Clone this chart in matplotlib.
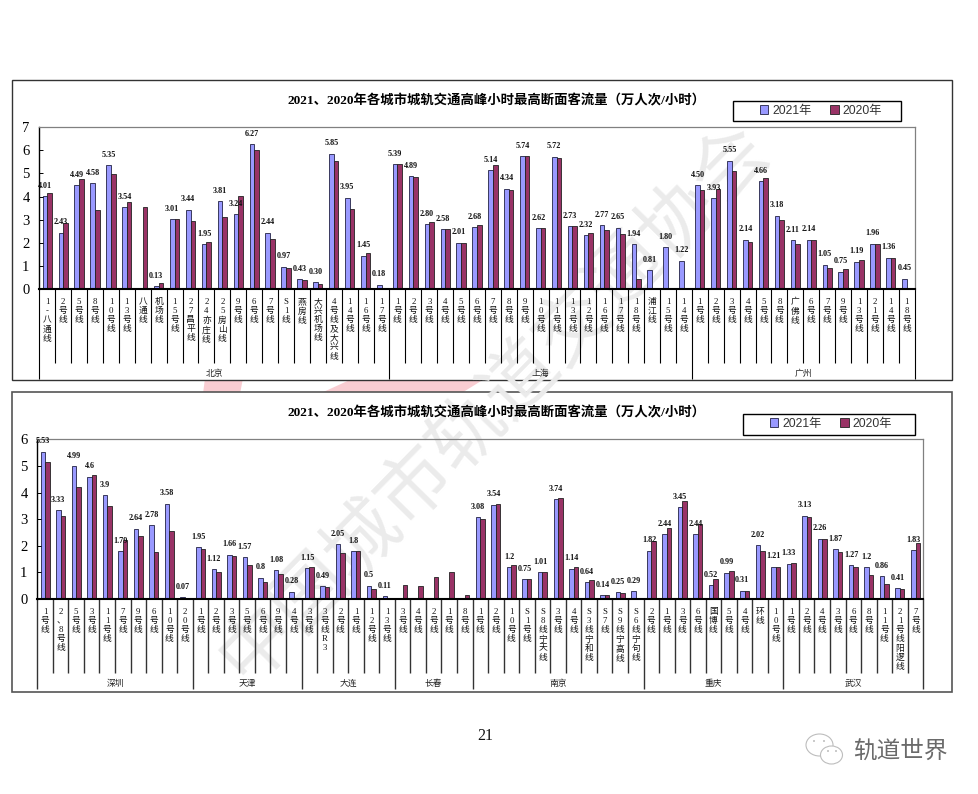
import matplotlib
matplotlib.use("Agg")
import matplotlib.pyplot as plt
from matplotlib.patches import Rectangle, Polygon, Ellipse

plt.rcParams['font.family'] = ['Liberation Serif', 'Noto Sans CJK SC']
plt.rcParams['axes.unicode_minus'] = False

W, H = 979, 794

TITLE = "2021、2020年各城市城轨交通高峰小时最高断面客流量（万人次/小时）"
SERIES = ["2021年", "2020年"]
COLORS = ["#9999FF", "#993366"]

# ---- Panel 1 -------------------------------------------------------------
cities_a = ["北京", "上海", "广州"]
lines_bj = ["1-八通线", "2号线", "5号线", "8号线", "10号线", "13号线", "八通线", "机场线",
            "15号线", "27昌平线", "24亦庄线", "25房山线", "9号线", "6号线", "7号线", "S1线",
            "燕房线", "大兴机场线", "4号线及大兴线", "14号线", "16号线", "17号线"]
y21_bj = [4.01, 2.43, 4.49, 4.58, 5.35, 3.54, None, 0.13, 3.01, 3.44, 1.95, 3.81, 3.24,
          6.27, 2.44, 0.97, 0.43, 0.30, 5.85, 3.95, 1.45, 0.18]
y20_bj = [4.14, 2.84, 4.75, 3.41, 4.96, 3.75, 3.55, 0.27, 3.01, 2.94, 2.03, 3.12, 4.03,
          6.00, 2.16, 0.89, 0.39, 0.23, 5.54, 3.45, 1.56, None]
lines_sh = ["1号线", "2号线", "3号线", "4号线", "5号线", "6号线", "7号线", "8号线", "9号线",
            "10号线", "11号线", "13号线", "12号线", "16号线", "17号线", "18号线", "浦江线",
            "15号线", "14号线"]
y21_sh = [5.39, 4.89, 2.80, 2.58, 2.01, 2.68, 5.14, 4.34, 5.74, 2.62, 5.72, 2.73, 2.32,
          2.77, 2.65, 1.94, 0.81, 1.80, 1.22]
y20_sh = [5.39, 4.83, 2.89, 2.58, 1.98, 2.76, 5.35, 4.27, 5.74, 2.62, 5.66, 2.73, 2.42,
          2.55, 2.37, 0.43, None, None, None]
lines_gz = ["1号线", "2号线", "3号线", "4号线", "5号线", "8号线", "广佛线", "6号线", "7号线",
            "9号线", "13号线", "21号线", "14号线", "18号线"]
y21_gz = [4.50, 3.93, 5.55, 2.14, 4.66, 3.18, 2.11, 2.14, 1.05, 0.75, 1.19, 1.96, 1.36, 0.45]
y20_gz = [4.27, 4.33, 5.09, 2.02, 4.79, 2.97, 1.95, 2.14, 0.91, 0.87, 1.25, 1.95, 1.36, None]

# ---- Panel 2 -------------------------------------------------------------
cities_b = ["深圳", "天津", "大连", "长春", "南京", "重庆", "武汉"]
lines_sz = ["1号线", "2、8号线", "5号线", "3号线", "11号线", "7号线", "9号线", "6号线", "10号线", "20号线"]
y21_sz = [5.53, 3.33, 4.99, 4.6, 3.9, 1.79, 2.64, 2.78, 3.58, 0.07]
y20_sz = [5.15, 3.11, 4.19, 4.64, 3.49, 2.2, 2.38, 1.78, 2.56, None]
lines_tj = ["1号线", "2号线", "3号线", "5号线", "6号线", "9号线", "4号线"]
y21_tj = [1.95, 1.12, 1.66, 1.57, 0.8, 1.08, 0.28]
y20_tj = [1.89, 1.03, 1.60, 1.26, 0.63, 0.93, None]
lines_dl = ["3号线", "3号线R3", "2号线", "1号线", "12号线", "13号线"]
y21_dl = [1.15, 0.49, 2.05, 1.8, 0.5, 0.11]
y20_dl = [1.19, 0.44, 1.74, 1.79, 0.37, None]
lines_cc = ["3号线", "4号线", "2号线", "1号线", "8号线"]
y21_cc = [None, None, None, None, None]
y20_cc = [0.51, 0.49, 0.81, 1.00, 0.15]
lines_nj = ["1号线", "2号线", "10号线", "S1号线", "S8线宁天线", "3号线", "4号线", "S3线宁和线",
            "S7线", "S9线宁高线", "S6线宁句线"]
y21_nj = [3.08, 3.54, 1.2, 0.75, 1.01, 3.74, 1.14, 0.64, 0.14, 0.25, 0.29]
y20_nj = [3.00, 3.56, 1.26, 0.75, 1.01, 3.81, 1.22, 0.70, 0.14, 0.22, None]
lines_cq = ["2号线", "1号线", "3号线", "6号线", "国博线", "5号线", "4号线", "环线", "10号线"]
y21_cq = [1.82, 2.44, 3.45, 2.44, 0.52, 0.99, 0.31, 2.02, 1.21]
y20_cq = [2.19, 2.67, 3.70, 2.80, 0.74, 1.07, 0.30, 1.82, 1.19]
lines_wh = ["1号线", "2号线", "4号线", "3号线", "6号线", "8号线", "11号线", "21号线阳逻线", "7号线"]
y21_wh = [1.33, 3.13, 2.26, 1.87, 1.27, 1.2, 0.86, 0.41, 1.83]
y20_wh = [1.37, 3.07, 2.24, 1.75, 1.19, 0.89, 0.55, 0.37, 2.12]

fig = plt.figure(figsize=(W / 100, H / 100), dpi=100, facecolor="white")


def fx(x):
    return x / W


def fy(y):
    return 1 - y / H


def fig_poly(pts, **kw):
    fig.add_artist(Polygon([(fx(a), fy(b)) for a, b in pts], closed=True,
                           transform=fig.transFigure, **kw))


def fig_rect(x0, y0, x1, y1, **kw):
    fig.add_artist(Rectangle((fx(x0), fy(y1)), fx(x1) - fx(x0), (y1 - y0) / H,
                             transform=fig.transFigure, **kw))


# pink logo remains showing between the two panels
fig_poly([(205, 378), (243, 378), (240, 394), (203, 394)], facecolor="#F9CDD2", edgecolor="none", zorder=0.1)
fig_poly([(354, 378), (486, 378), (460, 394), (319, 394)], facecolor="#F9CDD2", edgecolor="none", zorder=0.1)

# panel frames
fig_rect(12, 80, 952, 380, facecolor="white", edgecolor="#333333", linewidth=1.0, zorder=0.5)
fig_rect(12, 392, 952, 692, facecolor="white", edgecolor="#555555", linewidth=1.2, zorder=0.5)

# watermark
fig.text(fx(494), fy(402), "中国城市轨道交通协会", rotation=45.5, rotation_mode="anchor",
         ha="center", va="center", fontsize=54, color="#EBEBEB", fontweight="light",
         family=["Noto Sans CJK SC"], zorder=0.7)


def panel(box, ymax, groups, cities, sep_color, sep_lw, legend_box, legend_x_center, title_y, fmt):
    left, right, top, bottom = box
    ax = fig.add_axes([fx(left), fy(bottom), (right - left) / W, (bottom - top) / H], zorder=1)
    ax.patch.set_visible(False)
    labels, y21, y20, bounds = [], [], [], [0]
    for lab, a, b in groups:
        labels += lab
        y21 += a
        y20 += b
        bounds.append(len(labels))
    n = len(labels)
    xs = list(range(n))
    nan = float("nan")
    w = 0.29
    v21 = [nan if v is None else v for v in y21]
    v20 = [nan if v is None else v for v in y20]
    b1 = ax.bar([x + 0.5 - w / 2 for x in xs], v21, w, color=COLORS[0], edgecolor="#222244",
                linewidth=0.6, label=SERIES[0])
    b2 = ax.bar([x + 0.5 + w / 2 for x in xs], v20, w, color=COLORS[1], edgecolor="#222222",
                linewidth=0.6, label=SERIES[1])
    ax.set_xlim(0, n)
    ax.set_ylim(0, ymax)
    ax.set_yticks(range(0, ymax + 1))
    ax.tick_params(axis="y", direction="in", length=3, width=0.7, labelsize=10.5, pad=7)
    ax.set_xticks([])
    for s in ("top", "right"):
        ax.spines[s].set_color("#808080")
        ax.spines[s].set_linewidth(0.9)
    ax.spines["left"].set_color("black")
    ax.spines["left"].set_linewidth(1.0)
    ax.spines["bottom"].set_color("black")
    ax.spines["bottom"].set_linewidth(1.5)

    height = bottom - top
    tick_down = -(74.0 / height)
    group_down = -(90.0 / height)
    trans = ax.get_xaxis_transform()
    for i in range(n + 1):
        is_group = i in bounds
        ax.plot([i, i], [0, group_down if is_group else tick_down], transform=trans, clip_on=False,
                color=sep_color, linewidth=sep_lw, solid_capstyle="butt")
    for i, (lab, v) in enumerate(zip(labels, y21)):
        ax.annotate("\n".join(lab), xy=(i + 0.5, 0), xycoords=trans, xytext=(0, -6.5),
                    textcoords="offset points", ha="center", va="top", ma="center",
                    fontsize=6.3, linespacing=1.18, color="#111111")
        if v is not None:
            ax.annotate(format(v, fmt),
                        xy=(i + 0.5 - w / 2, v), xytext=(0, 7.5), textcoords="offset points",
                        ha="center", va="center", fontsize=5.9, fontweight="bold", color="#111111")
    for name, a, b in zip(cities, bounds[:-1], bounds[1:]):
        ax.annotate(name, xy=((a + b) / 2, 0), xycoords=trans, xytext=(0, -61),
                    textcoords="offset points", ha="center", va="center", fontsize=6.3, color="#222222",
                    family=["Noto Sans CJK SC"])

    fig.text(fx(496), fy(title_y), TITLE, ha="center", va="center", fontsize=9.6, fontweight="bold",
             zorder=2)
    lx0, ly0, lx1, ly1 = legend_box
    fig_rect(lx0, ly0, lx1, ly1, facecolor="white", edgecolor="black", linewidth=1.0, zorder=0.8)
    ax.legend([b1, b2], SERIES, loc="center", ncol=2, frameon=False,
              bbox_to_anchor=(fx(legend_x_center), fy((ly0 + ly1) / 2)), bbox_transform=fig.transFigure,
              handlelength=0.7, handleheight=0.7, handletextpad=0.3, columnspacing=1.55,
              labelcolor="#333333",
              prop={"family": ["Liberation Sans", "Noto Sans CJK SC"], "size": 8.8},
              borderpad=0, borderaxespad=0)
    return ax


panel((39.3, 914.7, 127.3, 289), 7,
      [(lines_bj, y21_bj, y20_bj), (lines_sh, y21_sh, y20_sh), (lines_gz, y21_gz, y20_gz)],
      cities_a, "black", 0.8, (733, 101, 901, 121), 821, 100.5, ".2f")
panel((37.3, 923.3, 439.3, 599), 6,
      [(lines_sz, y21_sz, y20_sz), (lines_tj, y21_tj, y20_tj), (lines_dl, y21_dl, y20_dl),
       (lines_cc, y21_cc, y20_cc), (lines_nj, y21_nj, y20_nj), (lines_cq, y21_cq, y20_cq),
       (lines_wh, y21_wh, y20_wh)],
      cities_b, "#333333", 1.0, (743, 413.5, 915, 434.5), 831, 412.5, "g")

# page number
fig.text(fx(485), fy(736), "21", ha="center", va="center", fontsize=11.5, color="#111111", zorder=2)

# brand mark
for cx, cy, ew, eh, z in [(819.5, 745, 27, 22, 2), (831.5, 755, 22, 18, 2.1)]:
    fig.add_artist(Ellipse((fx(cx), fy(cy)), ew / W, eh / H, transform=fig.transFigure,
                           facecolor="white", edgecolor="#BDBDBD", linewidth=0.8, zorder=z))
for cx, cy in [(814, 741), (824, 741), (828, 751), (836, 751)]:
    fig.add_artist(Ellipse((fx(cx), fy(cy)), 2 / W, 2 / H, transform=fig.transFigure,
                           facecolor="#BDBDBD", edgecolor="none", zorder=2.2))
fig.text(fx(900), fy(751.5), "轨道世界", ha="center", va="center", fontsize=17, color="#6A6A6A",
         family=["Noto Sans CJK SC"], zorder=2)

fig.savefig("out.png", dpi=100)
